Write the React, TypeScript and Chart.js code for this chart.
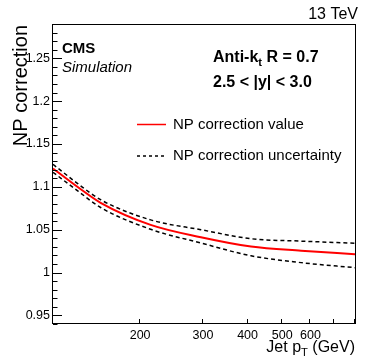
import React, { useEffect, useRef } from 'react';
import { Chart, registerables } from 'chart.js';

Chart.register(...registerables);

// Jet pT (GeV) sample points
const pT = [114, 134, 155, 214, 296, 409, 565, 800];
// NP correction central value
const npValue = [1.1215, 1.0995, 1.0814, 1.0557, 1.0413, 1.0304, 1.0255, 1.0214];
// NP correction uncertainty band (upper / lower)
const npUpper = [1.1263, 1.1035, 1.085, 1.0615, 1.05, 1.0395, 1.0367, 1.0342];
const npLower = [1.117, 1.095, 1.0759, 1.0505, 1.0345, 1.0196, 1.0116, 1.0057];

const yTickValues = [0.95, 1.0, 1.05, 1.1, 1.15, 1.2, 1.25];
const yTickLabels = ['0.95', '1', '1.05', '1.1', '1.15', '1.2', '1.25'];
const xTickValues = [200, 300, 400, 500, 600, 700, 800];
const xTickLabels = ['200', '300', '400', '500', '600', '', ''];

const FONT = '"Liberation Sans", Arial, Helvetica, sans-serif';

type Part = { t: string; sub?: boolean };

function drawParts(ctx: CanvasRenderingContext2D, parts: Part[], x: number, y: number, size: number, style: string, align: 'left' | 'right') {
  const subSize = size * 0.7;
  const widths = parts.map((p) => {
    ctx.font = `${style} ${p.sub ? subSize : size}px ${FONT}`;
    return ctx.measureText(p.t).width;
  });
  const total = widths.reduce((a, b) => a + b, 0);
  let cx = align === 'left' ? x : x - total;
  ctx.textAlign = 'left';
  ctx.textBaseline = 'alphabetic';
  parts.forEach((p, i) => {
    ctx.font = `${style} ${p.sub ? subSize : size}px ${FONT}`;
    ctx.fillText(p.t, cx, p.sub ? y + size * 0.25 : y);
    cx += widths[i];
  });
}

const decorPlugin = {
  id: 'decor',
  afterDraw(chart: any) {
    const ctx: CanvasRenderingContext2D = chart.ctx;
    const { left, right, top, bottom } = chart.chartArea;
    const xs = chart.scales.x;
    const ys = chart.scales.y;
    ctx.save();
    ctx.strokeStyle = '#000';
    ctx.fillStyle = '#000';
    ctx.lineWidth = 1;
    ctx.setLineDash([]);
    // frame
    ctx.strokeRect(Math.round(left) - 0.5, Math.round(top) + 0.5, Math.round(right - left) + 1, Math.round(bottom - top) - 1);
    ctx.beginPath();
    // y ticks (major every 0.05, minor every 0.01)
    for (let i = 94; i <= 129; i++) {
      const py = Math.round(ys.getPixelForValue(i / 100)) + 0.5;
      const len = i % 5 === 0 ? 9 : 4.5;
      ctx.moveTo(left, py);
      ctx.lineTo(left + len, py);
    }
    // x ticks
    for (const v of xTickValues) {
      const px = Math.round(xs.getPixelForValue(v)) - 0.5;
      ctx.moveTo(px, bottom);
      ctx.lineTo(px, bottom - 5);
    }
    ctx.stroke();

    // texts
    ctx.textAlign = 'right';
    ctx.textBaseline = 'alphabetic';
    ctx.font = `16px ${FONT}`;
    ctx.fillText('13 TeV', 358, 18.5);

    ctx.textAlign = 'left';
    ctx.font = `bold 15px ${FONT}`;
    ctx.fillText('CMS', 62, 52.5);
    ctx.font = `italic 15px ${FONT}`;
    ctx.fillText('Simulation', 62, 71.5);

    drawParts(ctx, [{ t: 'Anti-k' }, { t: 't', sub: true }, { t: ' R = 0.7' }], 213, 62, 16, 'bold', 'left');
    ctx.font = `bold 16px ${FONT}`;
    ctx.textAlign = 'left';
    ctx.fillText('2.5 < |y| < 3.0', 213, 87);

    // legend
    ctx.beginPath();
    ctx.strokeStyle = '#ff0000';
    ctx.lineWidth = 1.5;
    ctx.moveTo(137, 124.5);
    ctx.lineTo(166, 124.5);
    ctx.stroke();
    ctx.beginPath();
    ctx.strokeStyle = '#000';
    ctx.setLineDash([3, 3]);
    ctx.moveTo(137, 156);
    ctx.lineTo(166, 156);
    ctx.stroke();
    ctx.setLineDash([]);
    ctx.font = `15px ${FONT}`;
    ctx.textBaseline = 'middle';
    ctx.fillText('NP correction value', 173, 125);
    ctx.fillText('NP correction uncertainty', 173, 156);

    // axis titles
    drawParts(ctx, [{ t: 'Jet p' }, { t: 'T', sub: true }, { t: ' (GeV)' }], 355, 352, 16, 'normal', 'right');

    ctx.save();
    ctx.translate(27, 25);
    ctx.rotate(-Math.PI / 2);
    ctx.textAlign = 'right';
    ctx.textBaseline = 'alphabetic';
    ctx.font = `20px ${FONT}`;
    ctx.fillText('NP correction', 0, 0);
    ctx.restore();

    ctx.restore();
  },
};

export default function App() {
  const ref = useRef<HTMLCanvasElement>(null);
  useEffect(() => {
    if (!ref.current) return;
    const mk = (vals: number[]) => pT.map((x, i) => ({ x, y: vals[i] }));
    const chart = new Chart(ref.current, {
      type: 'line',
      data: {
        datasets: [
          {
            label: 'NP correction uncertainty up',
            data: mk(npUpper),
            borderColor: '#000',
            borderWidth: 1.5,
            borderDash: [4, 3],
            pointRadius: 0,
            cubicInterpolationMode: 'monotone',
          },
          {
            label: 'NP correction uncertainty down',
            data: mk(npLower),
            borderColor: '#000',
            borderWidth: 1.5,
            borderDash: [4, 3],
            pointRadius: 0,
            cubicInterpolationMode: 'monotone',
          },
          {
            label: 'NP correction value',
            data: mk(npValue),
            borderColor: '#ff0000',
            borderWidth: 2,
            pointRadius: 0,
            cubicInterpolationMode: 'monotone',
          },
        ],
      },
      options: {
        responsive: false,
        animation: false,
        layout: { padding: { left: 0, right: 19, top: 24, bottom: 0 } },
        plugins: { legend: { display: false }, tooltip: { enabled: false } },
        scales: {
          x: {
            type: 'logarithmic',
            min: 114,
            max: 800,
            grid: { display: false, drawTicks: false },
            border: { display: false },
            afterBuildTicks: (s: any) => {
              s.ticks = xTickValues.map((v) => ({ value: v }));
            },
            afterFit: (s: any) => {
              s.height = 36;
            },
            ticks: {
              autoSkip: false,
              maxRotation: 0,
              padding: 4,
              color: '#000',
              font: { family: FONT, size: 12.5 },
              callback: (v: any) => {
                const i = xTickValues.indexOf(Number(v));
                return i >= 0 ? xTickLabels[i] : '';
              },
            },
          },
          y: {
            type: 'linear',
            min: 0.94,
            max: 1.29,
            grid: { display: false, drawTicks: false },
            border: { display: false },
            afterBuildTicks: (s: any) => {
              s.ticks = yTickValues.map((v) => ({ value: v }));
            },
            afterFit: (s: any) => {
              s.width = 53;
            },
            ticks: {
              padding: 3,
              color: '#000',
              font: { family: FONT, size: 12.5 },
              callback: (v: any) => {
                const i = yTickValues.findIndex((t) => Math.abs(t - Number(v)) < 1e-6);
                return i >= 0 ? yTickLabels[i] : '';
              },
            },
          },
        },
      },
      plugins: [decorPlugin],
    });
    return () => chart.destroy();
  }, []);
  return (
    <div style={{ position: 'fixed', left: 0, top: 0, width: 374, height: 360, background: '#fff' }}>
      <canvas ref={ref} width={374} height={360} style={{ display: 'block' }} />
    </div>
  );
}
